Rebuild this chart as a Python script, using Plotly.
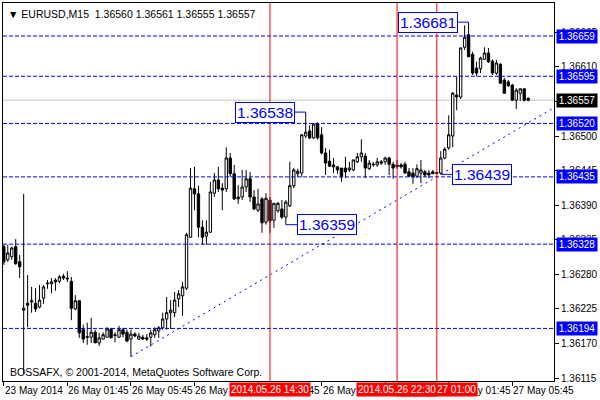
import plotly.graph_objects as go

# ---------------- data (EURUSD M15) ----------------
opens = [1.36324, 1.36303, 1.36308, 1.36324, 1.36300, 1.36223, 1.36234, 1.36236, 1.36234, 1.36228,
         1.36242, 1.36265, 1.36265, 1.36271, 1.36269, 1.36277, 1.36274, 1.36269, 1.36225, 1.36238,
         1.36192, 1.36181, 1.36180, 1.36188, 1.36171, 1.36177, 1.36180, 1.36193, 1.36184, 1.36180,
         1.36192, 1.36188, 1.36177, 1.36185, 1.36177, 1.36180, 1.36179, 1.36180, 1.36184, 1.36190,
         1.36195, 1.36209, 1.36219, 1.36219, 1.36241, 1.36246, 1.36258, 1.36339, 1.36416, 1.36408,
         1.36355, 1.36341, 1.36347, 1.36409, 1.36430, 1.36417, 1.36416, 1.36465, 1.36440, 1.36400,
         1.36403, 1.36419, 1.36432, 1.36403, 1.36382, 1.36400, 1.36363, 1.36398, 1.36366, 1.36381,
         1.36384, 1.36371, 1.36389, 1.36421, 1.36440, 1.36441, 1.36500, 1.36508, 1.36497, 1.36519,
         1.36502, 1.36473, 1.36460, 1.36454, 1.36451, 1.36449, 1.36449, 1.36446, 1.36446, 1.36459,
         1.36467, 1.36468, 1.36448, 1.36454, 1.36454, 1.36459, 1.36459, 1.36465, 1.36455, 1.36451,
         1.36454, 1.36455, 1.36443, 1.36441, 1.36436, 1.36441, 1.36443, 1.36441, 1.36443, 1.36440,
         1.36441, 1.36465, 1.36481, 1.36500, 1.36565, 1.36562, 1.36641, 1.36661, 1.36630, 1.36608,
         1.36607, 1.36622, 1.36632, 1.36619, 1.36600, 1.36614, 1.36589, 1.36586, 1.36581, 1.36557,
         1.36568, 1.36575, 1.36560]
highs = [1.36327, 1.36327, 1.36324, 1.36336, 1.36311, 1.36408, 1.36279, 1.36260, 1.36258, 1.36263,
         1.36263, 1.36271, 1.36274, 1.36274, 1.36279, 1.36281, 1.36285, 1.36276, 1.36247, 1.36239,
         1.36200, 1.36203, 1.36211, 1.36192, 1.36187, 1.36188, 1.36196, 1.36195, 1.36188, 1.36198,
         1.36195, 1.36192, 1.36192, 1.36188, 1.36187, 1.36184, 1.36185, 1.36192, 1.36196, 1.36198,
         1.36219, 1.36244, 1.36239, 1.36252, 1.36255, 1.36268, 1.36346, 1.36449, 1.36451, 1.36421,
         1.36366, 1.36366, 1.36427, 1.36441, 1.36451, 1.36425, 1.36482, 1.36473, 1.36454, 1.36422,
         1.36446, 1.36446, 1.36443, 1.36414, 1.36416, 1.36403, 1.36409, 1.36403, 1.36393, 1.36395,
         1.36398, 1.36398, 1.36459, 1.36449, 1.36448, 1.36502, 1.36538, 1.36517, 1.36521, 1.36522,
         1.36514, 1.36481, 1.36478, 1.36465, 1.36452, 1.36449, 1.36467, 1.36459, 1.36462, 1.36473,
         1.36495, 1.36473, 1.36462, 1.36459, 1.36465, 1.36462, 1.36467, 1.36467, 1.36459, 1.36462,
         1.36457, 1.36459, 1.36449, 1.36449, 1.36455, 1.36462, 1.36446, 1.36446, 1.36446, 1.36443,
         1.36476, 1.36482, 1.36533, 1.36570, 1.36594, 1.36641, 1.36676, 1.36681, 1.36634, 1.36618,
         1.36626, 1.36641, 1.36640, 1.36622, 1.36621, 1.36616, 1.36592, 1.36589, 1.36583, 1.36576,
         1.36576, 1.36576, 1.36561]
lows = [1.36295, 1.36300, 1.36303, 1.36295, 1.36274, 1.36122, 1.36196, 1.36219, 1.36220, 1.36226,
        1.36233, 1.36257, 1.36250, 1.36254, 1.36266, 1.36271, 1.36268, 1.36207, 1.36223, 1.36179,
        1.36171, 1.36168, 1.36171, 1.36171, 1.36166, 1.36177, 1.36180, 1.36179, 1.36172, 1.36179,
        1.36180, 1.36172, 1.36149, 1.36180, 1.36176, 1.36176, 1.36174, 1.36165, 1.36179, 1.36179,
        1.36192, 1.36192, 1.36193, 1.36212, 1.36228, 1.36214, 1.36255, 1.36338, 1.36382, 1.36339,
        1.36327, 1.36327, 1.36346, 1.36403, 1.36411, 1.36382, 1.36411, 1.36435, 1.36398, 1.36392,
        1.36398, 1.36411, 1.36395, 1.36382, 1.36379, 1.36346, 1.36359, 1.36346, 1.36354, 1.36378,
        1.36368, 1.36359, 1.36387, 1.36417, 1.36435, 1.36435, 1.36497, 1.36495, 1.36495, 1.36494,
        1.36471, 1.36438, 1.36451, 1.36441, 1.36440, 1.36427, 1.36433, 1.36443, 1.36444, 1.36457,
        1.36459, 1.36433, 1.36446, 1.36451, 1.36451, 1.36454, 1.36454, 1.36438, 1.36432, 1.36448,
        1.36448, 1.36440, 1.36435, 1.36424, 1.36433, 1.36425, 1.36435, 1.36433, 1.36440, 1.36440,
        1.36439, 1.36463, 1.36478, 1.36482, 1.36541, 1.36559, 1.36637, 1.36626, 1.36597, 1.36595,
        1.36600, 1.36621, 1.36616, 1.36597, 1.36597, 1.36583, 1.36567, 1.36578, 1.36556, 1.36543,
        1.36556, 1.36555, 1.36555]
closes = [1.36300, 1.36314, 1.36322, 1.36297, 1.36292, 1.36226, 1.36231, 1.36238, 1.36225, 1.36239,
          1.36260, 1.36266, 1.36268, 1.36268, 1.36276, 1.36274, 1.36273, 1.36226, 1.36238, 1.36187,
          1.36177, 1.36180, 1.36188, 1.36171, 1.36179, 1.36184, 1.36193, 1.36179, 1.36183, 1.36192,
          1.36185, 1.36174, 1.36185, 1.36182, 1.36182, 1.36177, 1.36177, 1.36187, 1.36192, 1.36195,
          1.36209, 1.36219, 1.36223, 1.36239, 1.36249, 1.36260, 1.36343, 1.36417, 1.36408, 1.36355,
          1.36339, 1.36347, 1.36411, 1.36430, 1.36416, 1.36414, 1.36465, 1.36440, 1.36400, 1.36403,
          1.36419, 1.36432, 1.36403, 1.36384, 1.36392, 1.36362, 1.36401, 1.36365, 1.36393, 1.36393,
          1.36371, 1.36395, 1.36421, 1.36446, 1.36444, 1.36502, 1.36506, 1.36497, 1.36519, 1.36497,
          1.36473, 1.36457, 1.36452, 1.36451, 1.36446, 1.36435, 1.36443, 1.36449, 1.36462, 1.36467,
          1.36473, 1.36449, 1.36457, 1.36455, 1.36459, 1.36457, 1.36465, 1.36455, 1.36449, 1.36454,
          1.36451, 1.36441, 1.36436, 1.36435, 1.36448, 1.36446, 1.36438, 1.36438, 1.36440, 1.36442,
          1.36465, 1.36479, 1.36502, 1.36568, 1.36562, 1.36640, 1.36657, 1.36626, 1.36600, 1.36600,
          1.36624, 1.36632, 1.36618, 1.36600, 1.36616, 1.36584, 1.36568, 1.36580, 1.36557, 1.36573,
          1.36575, 1.36557, 1.36557]
bars = list(range(len(opens)))

# time axis ticks (bar index of each tick) and their labels
tick_bars = [0, 16, 32, 48, 64, 80, 96, 112, 128]
tick_labels = ["23 May 2014", "26 May 01:45", "26 May 05:45", "26 May 09:45", "26 May 13:45",
               "26 May 17:45", "26 May 21:45", "27 May 01:45", "27 May 05:45"]

# price axis ticks
price_ticks = [1.36665, 1.36610, 1.36555, 1.36500, 1.36445, 1.36390, 1.36335, 1.36280,
               1.36225, 1.36170, 1.36115]

# horizontal levels and current price
levels = [1.36659, 1.36595, 1.36520, 1.36435, 1.36328, 1.36194]
current_price = 1.36557

# vertical time markers (bar index, label)
vline_bars = [67, 109, 99]
vline_labels = ["2014.05.26 14:30", "2014.05.27 01:00", "2014.05.26 22:30"]

# swing labels: bar index, price, label side offset direction
swing_bars = [117, 76, 71, 110]
swing_prices = [1.36681, 1.36538, 1.36359, 1.36439]
swing_dirs = [-1, -1, 1, 1]

# trend line anchors
trend_bars = [32, 110]
trend_prices = [1.36149, 1.36439]

x_max = 138.5
y_range = [1.361104, 1.367115]

FONT = "Liberation Sans"
BLUE = "#0000ff"

fig = go.Figure()

# trend line (ray to the right edge)
slope = (trend_prices[1] - trend_prices[0]) / (trend_bars[1] - trend_bars[0])
fig.add_trace(go.Scatter(
    x=[trend_bars[0], x_max],
    y=[trend_prices[0], trend_prices[0] + slope * (x_max - trend_bars[0])],
    mode="lines", line=dict(color=BLUE, width=1, dash="2px,4px"),
    hoverinfo="skip", showlegend=False))

fig.add_trace(go.Candlestick(
    x=bars, open=opens, high=highs, low=lows, close=closes,
    increasing=dict(line=dict(color="black", width=1), fillcolor="white"),
    decreasing=dict(line=dict(color="black", width=1), fillcolor="black"),
    whiskerwidth=0, showlegend=False, hoverinfo="skip"))

shapes = []
# current price line
shapes.append(dict(type="line", xref="paper", x0=0, x1=1, yref="y", y0=current_price, y1=current_price,
                   line=dict(color="#c0c0c0", width=1), layer="below"))
for lv in levels:
    shapes.append(dict(type="line", xref="paper", x0=0, x1=1, yref="y", y0=lv, y1=lv,
                       line=dict(color=BLUE, width=1, dash="4px,2px"), layer="above"))
for vb in vline_bars:
    shapes.append(dict(type="line", xref="x", x0=vb, x1=vb, yref="paper", y0=0, y1=1,
                       line=dict(color="#ff0000", width=1), layer="above"))

ann = []
# header
ann.append(dict(xref="paper", yref="paper", x=0, y=1, xanchor="left", yanchor="top",
                xshift=3, yshift=-3, showarrow=False,
                text="\u25bc EURUSD,M15\u00a0\u00a0" + " ".join(f"{v:.5f}" for v in
                     [opens[-1], highs[-1], lows[-1], closes[-1]]),
                font=dict(family=FONT, size=10.5, color="black")))
# copyright
ann.append(dict(xref="paper", yref="paper", x=0, y=0, xanchor="left", yanchor="bottom",
                xshift=5, yshift=1, showarrow=False,
                text="BOSSAFX, \u00a9 2001-2014, MetaQuotes Software Corp.",
                font=dict(family=FONT, size=10.5, color="black")))
# time labels
for tb, tl in zip(tick_bars, tick_labels):
    ann.append(dict(xref="x", yref="paper", x=tb, y=0, xanchor="left", yanchor="top",
                    xshift=-1, yshift=-2, showarrow=False, text=tl,
                    font=dict(family=FONT, size=10, color="black")))
# red vertical line labels
for vb, vl in zip(vline_bars, vline_labels):
    ann.append(dict(xref="x", yref="paper", x=vb, y=0, xanchor="center", yanchor="top",
                    yshift=-1, showarrow=False, text=vl, bgcolor="#ff0000", borderpad=1,
                    font=dict(family=FONT, size=10, color="white")))
# right level labels
for lv in levels:
    ann.append(dict(xref="paper", yref="y", x=1, y=lv, xanchor="left", yanchor="middle",
                    xshift=2, showarrow=False, text=f"{lv:.5f}", bgcolor=BLUE,
                    width=38, height=11, borderpad=1,
                    font=dict(family=FONT, size=10, color="white")))
ann.append(dict(xref="paper", yref="y", x=1, y=current_price, xanchor="left", yanchor="middle",
                xshift=2, showarrow=False, text=f"{current_price:.5f}", bgcolor="black",
                width=38, height=11, borderpad=1,
                font=dict(family=FONT, size=10, color="white")))
# swing labels
for sb, sp, sd in zip(swing_bars, swing_prices, swing_dirs):
    ann.append(dict(xref="x", yref="y", x=sb, y=sp, text=f"{sp:.5f}",
                    showarrow=True, arrowhead=0, arrowwidth=1, arrowcolor=BLUE,
                    ax=41 * sd, ay=0, standoff=0,
                    bordercolor=BLUE, borderwidth=1, borderpad=1, bgcolor="white",
                    font=dict(family=FONT, size=15.5, color=BLUE)))

fig.update_layout(
    width=600, height=400,
    margin=dict(l=2, r=43, t=2, b=19),
    paper_bgcolor="white", plot_bgcolor="white",
    showlegend=False, hovermode=False, boxgap=0.15,
    shapes=shapes, annotations=ann,
    xaxis=dict(range=[-0.2, x_max], tickvals=tick_bars, showticklabels=False,
               ticks="outside", ticklen=4, tickcolor="black",
               showgrid=False, zeroline=False, showline=True, linecolor="black",
               linewidth=1, mirror=True, rangeslider=dict(visible=False), fixedrange=True),
    yaxis=dict(range=y_range, side="right", tickvals=price_ticks,
               ticktext=[f"{t:.5f}" for t in price_ticks],
               ticks="outside", ticklen=4, tickcolor="black",
               tickfont=dict(family=FONT, size=10, color="black"),
               showgrid=False, zeroline=False, showline=True, linecolor="black",
               linewidth=1, mirror=True, fixedrange=True),
)

fig.write_html("out.html", config={"displayModeBar": False},
               post_script="document.body.style.margin='0';document.body.style.overflow='hidden';")
